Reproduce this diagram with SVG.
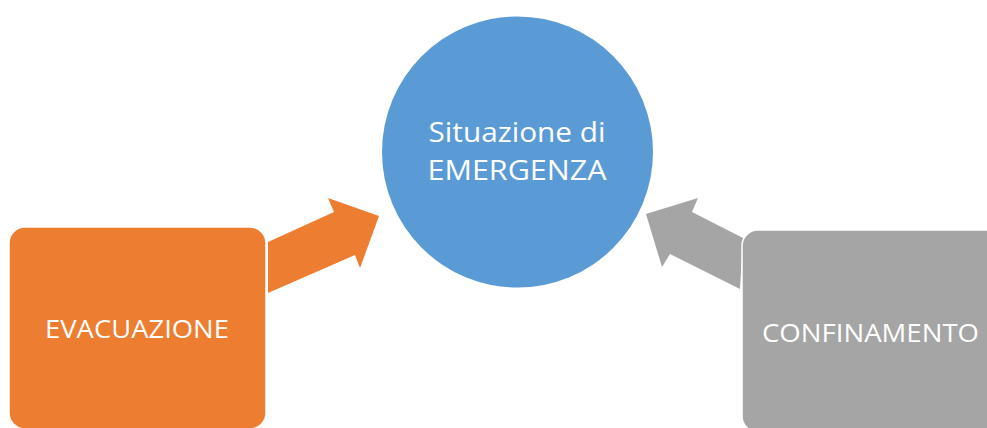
<svg xmlns="http://www.w3.org/2000/svg" width="987" height="428" viewBox="0 0 987 428">
<style>
.lbl{font-family:"Open Sans","Liberation Sans",sans-serif;fill:#ffffff;text-anchor:middle}
.box{stroke:#ffffff;stroke-width:1.5}
</style>
<rect width="987" height="428" fill="#ffffff"/>
<g id="connectors">
<polygon id="arrow-evac" points="268,242 334,212 328,198 379,216 360,268 355,255 268,293" fill="#ED7D31"/>
<polygon id="arrow-conf" points="743,238 692,212 698,198 646,214 662,267 670,254 740,289" fill="#A5A5A5"/>
</g>
<g id="node-emergenza">
<circle cx="517.5" cy="152" r="135.5" fill="#5B9BD5"/>
<text class="lbl" x="517" y="142" font-size="28" textLength="177" lengthAdjust="spacingAndGlyphs">Situazione di</text>
<text class="lbl" x="517" y="180" font-size="28" textLength="179" lengthAdjust="spacingAndGlyphs">EMERGENZA</text>
</g>
<g id="node-evacuazione">
<rect class="box" x="9" y="227" width="257" height="202" rx="16" fill="#ED7D31"/>
<text class="lbl" x="137" y="338" font-size="26" textLength="184" lengthAdjust="spacingAndGlyphs">EVACUAZIONE</text>
</g>
<g id="node-confinamento">
<rect class="box" x="742" y="230" width="270" height="202" rx="16" fill="#A5A5A5"/>
<text class="lbl" x="870.5" y="342" font-size="26" textLength="217" lengthAdjust="spacingAndGlyphs">CONFINAMENTO</text>
</g>
</svg>
